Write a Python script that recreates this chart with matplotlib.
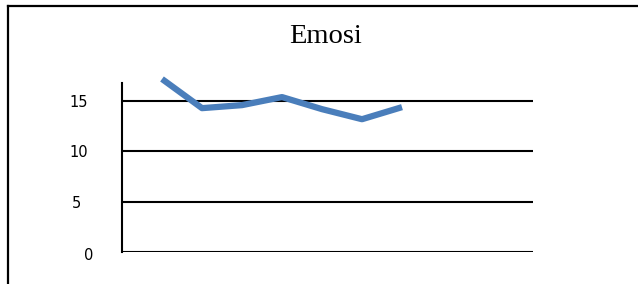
import matplotlib
matplotlib.use("Agg")
import matplotlib.pyplot as plt
import matplotlib.transforms as mtransforms
from matplotlib.lines import Line2D

title = "Emosi"
days = [1, 2, 3, 4, 5, 6, 7]
values = [17.2, 14.3, 14.6, 15.4, 14.2, 13.2, 14.4]
yticks = [0, 5, 10, 15]
ytick_labels = ["0", "5", "10", "15"]

W, H = 638, 284
fig = plt.figure(figsize=(W / 100, H / 100), dpi=100)

# frame (top and left only visible)
fig.add_artist(Line2D([8 / W, 1.0], [1 - 6 / H, 1 - 6 / H], transform=fig.transFigure,
                      color="black", lw=1.6))
fig.add_artist(Line2D([8 / W, 8 / W], [1 - 6 / H, 0.0], transform=fig.transFigure,
                      color="black", lw=1.6))

ax = fig.add_axes([122 / W, 1 - 252 / H, (533 - 122) / W, (252 - 83) / H])
ax.set_xlim(0, 10.275)
ax.set_ylim(0, 16.8)

for t in yticks:
    ax.axhline(t, color="black", lw=1.5, zorder=1)

ax.plot(days, values, color="#4A7EBB", lw=4.5, solid_capstyle="butt",
        solid_joinstyle="round", clip_on=False, zorder=3)

for s in ["top", "right", "bottom"]:
    ax.spines[s].set_visible(False)
ax.spines["left"].set_color("black")
ax.spines["left"].set_linewidth(1.5)

ax.set_xticks([])
ax.set_yticks(yticks)
ax.set_yticklabels(ytick_labels, family="DejaVu Sans", fontsize=10.5)
ax.tick_params(axis="y", length=0, pad=31)
for lab in ax.get_yticklabels():
    lab.set_horizontalalignment("center")
    if lab.get_text() == "0":
        lab.set_transform(lab.get_transform() +
                          mtransforms.ScaledTranslation(10 / 100, -2 / 100, fig.dpi_scale_trans))
    elif lab.get_text() == "5":
        lab.set_transform(lab.get_transform() +
                          mtransforms.ScaledTranslation(-3 / 100, 0, fig.dpi_scale_trans))

fig.text(326 / W, 1 - 43 / H, title, family="Liberation Serif", fontsize=20.5,
         ha="center", va="baseline")

fig.savefig("out.png", dpi=100)
